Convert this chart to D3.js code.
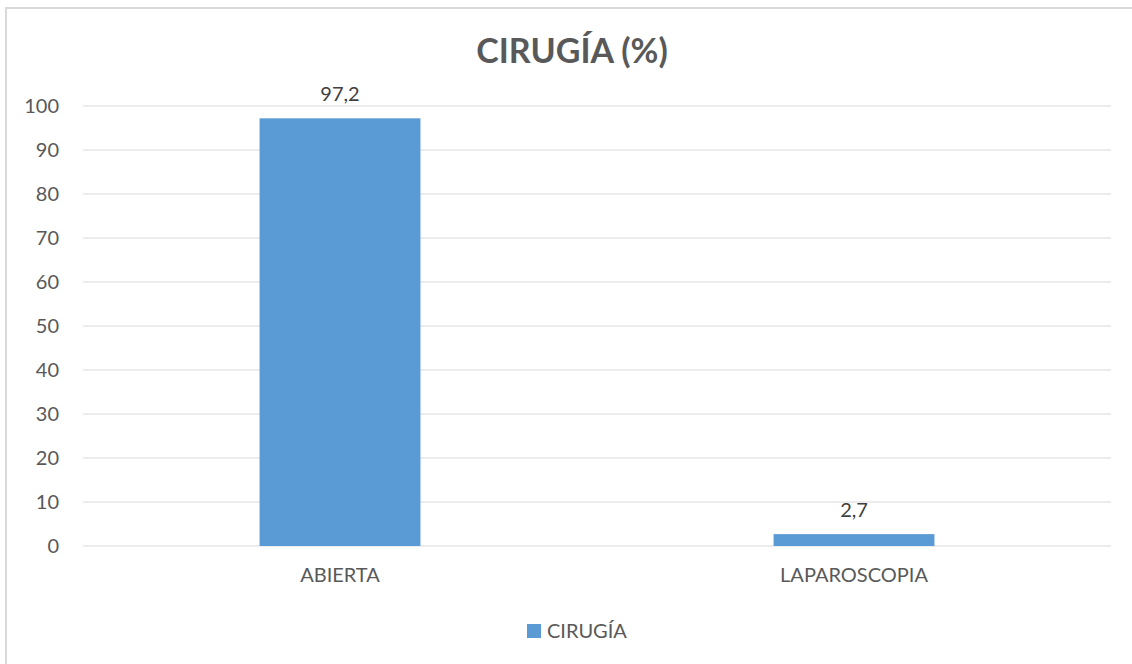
<!DOCTYPE html>
<html>
<head>
<meta charset="utf-8">
<script src="https://cdn.jsdelivr.net/npm/d3@7"></script>
<style>
  body { margin: 0; background: #fff; }
  svg { display: block; font-family: Lato, "Open Sans", sans-serif; }
</style>
</head>
<body>
<svg id="chart" width="1132" height="664"></svg>
<script>
// chart data
const categories = ['ABIERTA', 'LAPAROSCOPIA'];
const values = [97.2, 2.7];
const valueLabels = ['97,2', '2,7'];
const yTicks = [0, 10, 20, 30, 40, 50, 60, 70, 80, 90, 100];
const seriesName = 'CIRUGÍA';
const title = 'CIRUGÍA (%)';

const svg = d3.select('#chart');
const margin = { left: 83, right: 21, top: 106, bottom: 118 };
const width = 1132, height = 664;
const textColor = '#595959';
const barColor = '#5b9bd5';
const labelSize = '20px';

// outer chart frame
svg.append('rect')
    .attr('x', 6).attr('y', 8)
    .attr('width', 1140).attr('height', 680)
    .attr('fill', 'none')
    .attr('stroke', '#d9d9d9')
    .attr('stroke-width', 2);

const x = d3.scaleBand()
    .domain(categories)
    .range([margin.left, width - margin.right])
    .paddingInner(0.687)
    .paddingOuter(0.3435);

const y = d3.scaleLinear()
    .domain([0, 100])
    .range([height - margin.bottom, margin.top]);

// gridlines
svg.append('g')
    .selectAll('line')
    .data(yTicks)
    .enter()
    .append('line')
    .attr('x1', margin.left)
    .attr('x2', width - margin.right)
    .attr('y1', (d) => y(d))
    .attr('y2', (d) => y(d))
    .attr('stroke', '#d9d9d9')
    .attr('stroke-width', 1);

// y axis labels
const yAxis = svg.append('g')
    .attr('transform', `translate(${margin.left - 24},0)`)
    .call(d3.axisLeft(y).tickValues(yTicks).tickSize(0).tickPadding(0));
yAxis.select('.domain').remove();
yAxis.selectAll('text')
    .attr('fill', textColor)
    .style('font-size', labelSize)
    .style('font-family', 'Lato, "Open Sans", sans-serif');

// bars
svg.append('g')
    .selectAll('rect')
    .data(values)
    .enter()
    .append('rect')
    .attr('x', (d, i) => x(categories[i]))
    .attr('y', (d) => y(d))
    .attr('width', x.bandwidth())
    .attr('height', (d) => y(0) - y(d))
    .attr('fill', barColor);

// value labels
svg.append('g')
    .selectAll('text')
    .data(values)
    .enter()
    .append('text')
    .attr('x', (d, i) => x(categories[i]) + x.bandwidth() / 2)
    .attr('y', (d) => y(d) - 17)
    .attr('text-anchor', 'middle')
    .attr('fill', '#404040')
    .style('font-size', labelSize)
    .text((d, i) => valueLabels[i]);

// x axis labels
const xAxis = svg.append('g')
    .attr('transform', `translate(0,${y(0) + 12})`)
    .call(d3.axisBottom(x).tickSize(0).tickPadding(10));
xAxis.select('.domain').remove();
xAxis.selectAll('text')
    .attr('fill', textColor)
    .style('font-size', labelSize)
    .style('font-family', 'Lato, "Open Sans", sans-serif');

// title
svg.append('text')
    .attr('x', 572)
    .attr('y', 63)
    .attr('text-anchor', 'middle')
    .attr('fill', textColor)
    .style('font-size', '34px')
    .style('font-weight', 'bold')
    .text(title);

// legend
const legend = svg.append('g').attr('transform', 'translate(527,624)');
legend.append('rect')
    .attr('x', 0).attr('y', 0)
    .attr('width', 14).attr('height', 14)
    .attr('fill', barColor);
legend.append('text')
    .attr('x', 20)
    .attr('y', 14)
    .attr('fill', textColor)
    .style('font-size', labelSize)
    .text(seriesName);
</script>
</body>
</html>
